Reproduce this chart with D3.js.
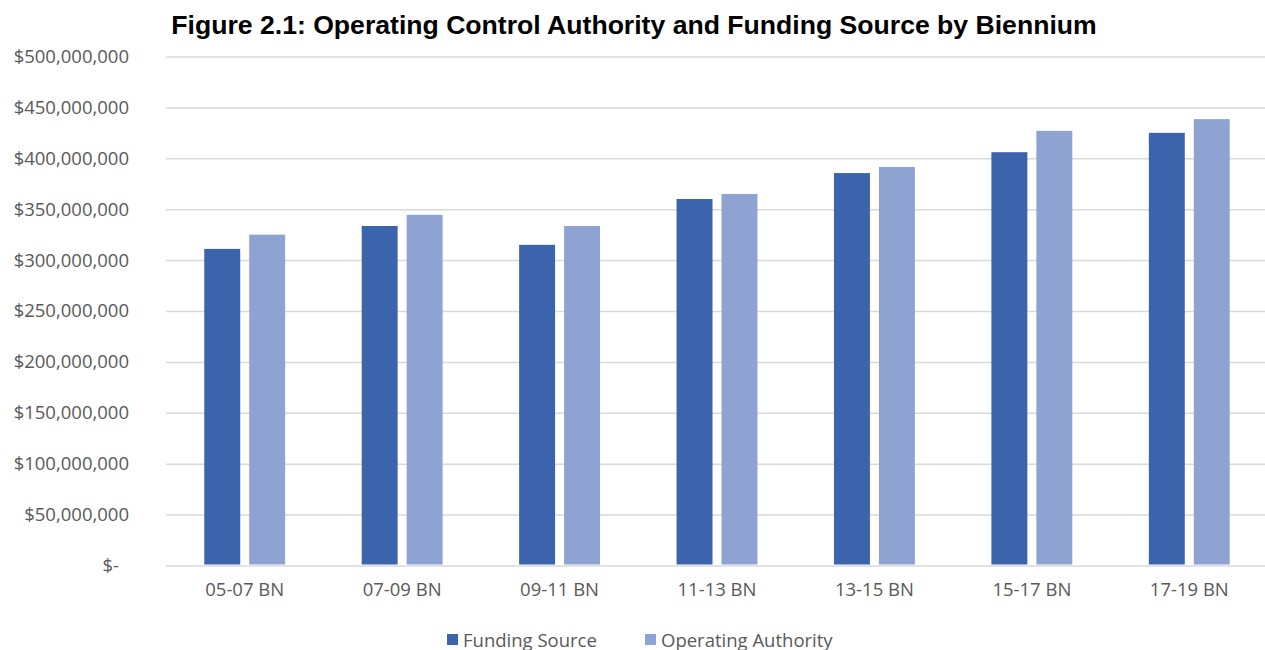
<!DOCTYPE html>
<html>
<head>
<meta charset="utf-8">
<script src="https://cdn.jsdelivr.net/npm/d3@7"></script>
<style>
  body { margin: 0; background: #fff; }
  svg { display: block; }
</style>
</head>
<body>
<div id="chart"></div>
<script>
// biennium categories and the two series (dollars)
var bienniums = ["05-07 BN", "07-09 BN", "09-11 BN", "11-13 BN", "13-15 BN", "15-17 BN", "17-19 BN"];
var fundingSource = [311000000, 333500000, 315000000, 360000000, 385500000, 406000000, 425000000];
var operatingAuthority = [325000000, 344500000, 333500000, 365000000, 391500000, 427000000, 438500000];
var seriesNames = ["Funding Source", "Operating Authority"];
var seriesColors = ["#3c64ac", "#8fa3d3"];
var yTicks = [0, 50000000, 100000000, 150000000, 200000000, 250000000, 300000000, 350000000, 400000000, 450000000, 500000000];

var W = 1265, H = 650;
var plotLeft = 166, plotRight = 1268, plotTop = 56.5, plotBottom = 565.5;
var labelFont = 18.5;

var svg = d3.select("#chart").append("svg")
    .attr("width", W)
    .attr("height", H);

var x0 = d3.scaleBand().domain(bienniums).range([plotLeft, plotRight]).paddingInner(0.486).paddingOuter(0.243);
var x1 = d3.scaleBand().domain(seriesNames).range([0, x0.bandwidth()]).paddingInner(0.2);
var y = d3.scaleLinear().domain([0, 500000000]).range([plotBottom, plotTop]);

var fmt = d3.format(",");
function money(d) { return d === 0 ? "$-" : "$" + fmt(d); }

// gridlines + y labels
var yAxis = d3.axisLeft(y).tickValues(yTicks).tickFormat(money).tickSize(0).tickPadding(37);
var gy = svg.append("g")
    .attr("transform", "translate(" + plotLeft + ",0)")
    .call(yAxis);
gy.select(".domain").remove();
gy.selectAll(".tick line")
    .attr("x2", plotRight - plotLeft)
    .attr("stroke", "#d9d9d9")
    .attr("stroke-width", 1.5);
gy.selectAll(".tick text")
    .attr("font-family", "Open Sans, sans-serif")
    .attr("font-size", labelFont)
    .attr("fill", "#595959");
gy.selectAll(".tick").filter(function(d) { return d === 0; }).select("text").attr("x", -47);

// x labels
var xAxis = d3.axisBottom(x0).tickSize(0).tickPadding(17);
var gx = svg.append("g")
    .attr("transform", "translate(0," + plotBottom + ")")
    .call(xAxis);
gx.select(".domain").remove();
gx.selectAll(".tick text")
    .attr("font-family", "Open Sans, sans-serif")
    .attr("font-size", labelFont)
    .attr("fill", "#595959");

// bars
var rows = bienniums.map(function(b, i) {
  return { cat: b, values: [fundingSource[i], operatingAuthority[i]] };
});

var groups = svg.selectAll(".grp")
    .data(rows)
  .enter().append("g")
    .attr("class", "grp")
    .attr("transform", function(d) { return "translate(" + x0(d.cat) + ",0)"; });

groups.selectAll("rect")
    .data(function(d) { return d.values.map(function(v, j) { return { name: seriesNames[j], value: v, idx: j }; }); })
  .enter().append("rect")
    .attr("x", function(d) { return x1(d.name); })
    .attr("width", x1.bandwidth())
    .attr("y", function(d) { return y(d.value); })
    .attr("height", function(d) { return plotBottom - 1 - y(d.value); })
    .attr("fill", function(d) { return seriesColors[d.idx]; });

// title
svg.append("text")
    .attr("x", 634)
    .attr("y", 34)
    .attr("text-anchor", "middle")
    .attr("font-family", "Liberation Sans, Arial, sans-serif")
    .attr("font-weight", "bold")
    .attr("font-size", 26.6)
    .attr("fill", "#000")
    .text("Figure 2.1: Operating Control Authority and Funding Source by Biennium");

// legend
var legendX = [447, 645];
var lg = svg.selectAll(".legend")
    .data(seriesNames)
  .enter().append("g")
    .attr("class", "legend")
    .attr("transform", function(d, i) { return "translate(" + legendX[i] + ",634)"; });
lg.append("rect")
    .attr("width", 11)
    .attr("height", 11)
    .attr("fill", function(d, i) { return seriesColors[i]; });
lg.append("text")
    .attr("x", 16)
    .attr("y", 13)
    .attr("font-family", "Open Sans, sans-serif")
    .attr("font-size", labelFont)
    .attr("fill", "#595959")
    .text(function(d) { return d; });
</script>
</body>
</html>
